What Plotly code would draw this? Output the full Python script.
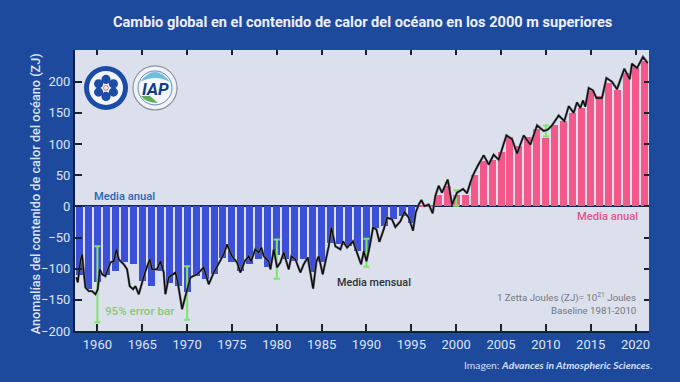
import plotly.graph_objects as go

years = list(range(1958, 2022))
annual = [-110,-133,-122,-110,-104,-90,-92,-120,-128,-104,-123,-128,-137,-112,-117,-109,-83,-90,-104,-93,-85,-98,
          -78,-84,-88,-85,-106,-90,-58,-61,-64,-72,-74,-34,-32,-21,-16,-26,3,2,18,32,19,19,50,73,75,88,112,97,112,
          125,110,130,137,150,158,185,177,198,187,214,225,233]

month_x = [1957.66,1957.81,1958.1,1958.29,1958.48,1958.66,1959.03,1959.4,1959.78,1960.04,1960.26,1960.52,1960.89,
 1961.45,1961.82,1962.12,1962.38,1962.94,1963.31,1963.6,1963.98,1964.24,1964.61,1965.09,1965.35,1965.84,1966.09,
 1966.65,1967.02,1967.39,1967.58,1967.95,1968.7,1968.96,1969.44,1969.81,1970.37,1971.11,1971.85,1972.41,1972.97,
 1974.08,1974.45,1975.01,1975.57,1975.94,1976.42,1976.87,1977.13,1977.6,1977.98,1978.28,1978.54,1979.1,1979.29,
 1979.66,1980.03,1980.4,1980.77,1981.33,1981.63,1982.07,1982.63,1983.0,1983.45,1984.05,1984.42,1984.68,1985.12,
 1985.79,1986.09,1986.53,1987.09,1987.39,1987.84,1988.5,1989.14,1989.4,1989.7,1990.0,1990.36,1990.73,1991.11,
 1991.44,1991.92,1992.3,1992.85,1993.22,1993.78,1994.23,1994.71,1995.19,1995.49,1995.83,1996.12,1996.46,1996.94,
 1997.38,1997.68,1998.05,1998.42,1999.06,1999.54,2000.1,2000.77,2001.21,2001.58,2001.88,2002.4,2003.07,2003.63,
 2004.18,2004.74,2005.6,2006.23,2006.79,2007.53,2008.27,2009.02,2009.76,2010.2,2010.69,2011.43,2012.06,2012.55,
 2013.1,2013.47,2013.85,2014.14,2014.4,2014.78,2015.26,2015.63,2016.26,2016.75,2017.38,2017.93,2018.75,2019.35,
 2019.6,2020.16,2020.83,2021.35]
month_y = [-114,-122,-88,-77,-106,-130,-136,-136,-141,-133,-101,-109,-112,-90,-88,-69,-85,-93,-101,-128,-133,-128,
 -141,-117,-104,-85,-101,-101,-88,-106,-141,-114,-106,-122,-165,-144,-114,-109,-98,-125,-106,-77,-61,-80,-90,-106,
 -88,-80,-88,-69,-74,-66,-80,-88,-101,-69,-98,-90,-74,-101,-80,-85,-106,-93,-82,-132,-88,-80,-109,-64,-34,-64,-69,
 -56,-66,-56,-85,-93,-72,-88,-64,-34,-37,-57,-37,-18,-21,-33,-24,-9,-18,-39,-10,3,10,0.5,3,-11,17,33,22,43,3,22,28,
 21,38,50,65,82,67,83,75,114,108,85,114,99,130,121,123,130,146,137,161,150,167,158,170,160,190,186,174,174,206,200,
 188,221,204,229,222,240,230]

err_years = [1960, 1970, 1980, 1990, 2000, 2010]
err_center = [-125, -139, -84.5, -74.5, 13.5, 121]
err_half = [61, 43, 31.5, 22.5, 12.5, 9]

tick_years = list(range(1960, 2021, 5))
tick_vals = list(range(-200, 201, 50))

PAGE = "#1E4A9E"
PLOT = "#DBE0EC"
BLUE = "#3B50D6"
PINK = "#F4578A"
TICKTXT = "#DDE4F2"
FONT = "Roboto"

L, R, T, B = 75, 649, 50, 331.5

fig = go.Figure()
fig.add_trace(go.Bar(x=years, y=annual, width=0.78, showlegend=False,
                     marker=dict(color=[BLUE if v < 0 else PINK for v in annual], line=dict(width=0))))
fig.add_trace(go.Scatter(x=err_years, y=err_center, mode="none", showlegend=False,
                         error_y=dict(type="data", array=err_half, color="#7FE56A", thickness=2, width=3)))
fig.add_trace(go.Scatter(x=month_x, y=month_y, mode="lines", showlegend=False,
                         line=dict(color="#6E7078", width=2.4)))
fig.add_trace(go.Scatter(x=month_x, y=month_y, mode="lines", showlegend=False,
                         line=dict(color="#0A0A0A", width=1.3)))
# invisible trace carrying the mirrored top and right tick axes
fig.add_trace(go.Scatter(x=[years[0]], y=[annual[0]], xaxis="x2", yaxis="y2", mode="none",
                         showlegend=False, hoverinfo="skip"))

xr = [1957.5, 2021.5]
yr = [-200, 251]
fig.update_layout(
    width=680, height=382, paper_bgcolor=PAGE, plot_bgcolor=PLOT,
    margin=dict(l=L, r=680 - R, t=T, b=382 - B), bargap=0,
    font=dict(family=FONT, color=TICKTXT, size=13),
    xaxis=dict(range=xr, tickvals=tick_years, ticks="inside", ticklen=7, tickwidth=1.5, tickcolor="#1A2130",
               showgrid=False, zeroline=False, showline=True, linecolor="#101C4A", linewidth=2,
               tickfont=dict(size=13, color=TICKTXT)),
    yaxis=dict(range=yr, tickvals=tick_vals, ticks="inside", ticklen=7, tickwidth=1.5, tickcolor="#1A2130",
               showgrid=False, zeroline=True, zerolinecolor="#16255E", zerolinewidth=1.5,
               showline=True, linecolor="#101C4A", linewidth=2,
               tickfont=dict(size=13, color=TICKTXT)),
    xaxis2=dict(range=xr, overlaying="x", side="top", tickvals=tick_years, ticks="inside", ticklen=5, tickwidth=1.5,
                tickcolor="#1A2130", showticklabels=False, showgrid=False, zeroline=False, showline=False),
    yaxis2=dict(range=yr, overlaying="y", side="right", tickvals=tick_vals, ticks="inside", ticklen=5, tickwidth=1.5,
                tickcolor="#1A2130", showticklabels=False, showgrid=False, zeroline=False, showline=False),
)


def px(x):
    return (x - L) / (R - L)


def py(y):
    return (B - y) / (B - T)


def circle(cx, cy, r, fill, line=None, lw=0):
    fig.add_shape(type="circle", xref="paper", yref="paper", x0=px(cx - r), x1=px(cx + r),
                  y0=py(cy + r), y1=py(cy - r), fillcolor=fill, line=dict(color=line or fill, width=lw))


def text(x, y, s, color, size, anchor="left", family=FONT, weight=500):
    fig.add_annotation(xref="paper", yref="paper", x=px(x), y=py(y), text=s, showarrow=False,
                       xanchor=anchor, yanchor="middle",
                       font=dict(color=color, size=size, family=family, weight=weight))


# CAS logo
circle(106, 88, 22, "#1C4CA6")
circle(106, 88, 17, "#F2F4F8")
for dx, dy in [(0, -8.5), (7.4, -4.2), (7.4, 4.2), (0, 8.5), (-7.4, 4.2), (-7.4, -4.2)]:
    circle(106 + dx, 88 + dy, 4.6, "#1C4CA6")
circle(106, 88, 2.4, "#F2F4F8", "#C05070", 0.8)

# IAP logo
circle(155, 88, 22, "#F0F2F6", "#8C94A4", 1.2)
circle(155, 88, 17, "#F4F6FA", "#3F6FA8", 0.8)
fig.add_shape(type="path", xref="paper", yref="paper",
              path=f"M {px(140)} {py(82)} Q {px(155)} {py(62)} {px(170)} {py(82)} Q {px(155)} {py(74)} {px(140)} {py(82)} Z",
              fillcolor="#6FBFDC", line=dict(width=0))
fig.add_shape(type="path", xref="paper", yref="paper",
              path=f"M {px(141)} {py(96)} L {px(150)} {py(96)} L {px(158)} {py(103)} Q {px(146)} {py(103)} {px(141)} {py(96)} Z",
              fillcolor="#5FAE55", line=dict(width=0))
text(155, 89, "<b><i>IAP</i></b>", "#123C86", 17, "center")

# Texts
text(362.5, 22, "<b>Cambio global en el contenido de calor del océano en los 2000 m superiores</b>", "#EDF0F8", 14.6, "center")
fig.add_annotation(xref="paper", yref="paper", x=px(26), y=py(194), text="Anomalías del contenido de calor del océano (ZJ)",
                   textangle=-90, showarrow=False, font=dict(color=TICKTXT, size=12.7, family=FONT, weight=500))
text(92, 197, "Media anual", "#2268B5", 11.2)
text(640, 217, "Media anual", "#E0558F", 11.2, "right")
text(335, 283, "Media mensual", "#2E3036", 10.8)
text(103, 311, "95% error bar", "#8CC878", 11.6)
text(638, 298, "1 Zetta Joules (ZJ)= 10<sup>21</sup> Joules", "#74777F", 9.7, "right", weight=400)
text(638, 311, "Baseline 1981-2010", "#74777F", 9.7, "right", weight=400)
text(654, 366, "Imagen: <b><i>Advances in Atmospheric Sciences</i></b>.", "#D5DEF0", 10.3, "right", "Lato", 400)

fig.write_html("out.html", config={"displayModeBar": False},
               post_script="document.body.style.margin='0';document.body.style.background='#1E4A9E';")
